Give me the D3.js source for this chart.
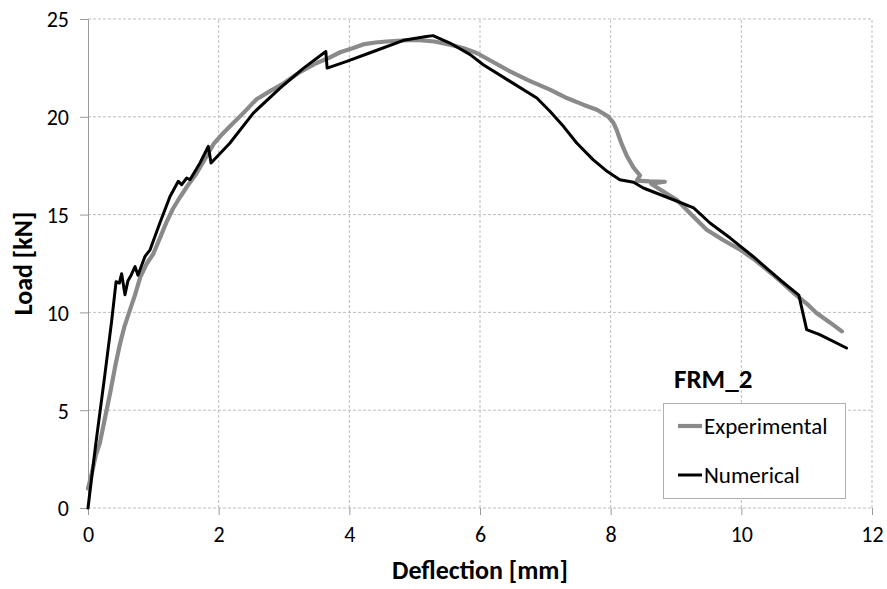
<!DOCTYPE html>
<html>
<head>
<meta charset="utf-8">
<script src="https://cdn.jsdelivr.net/npm/d3@7"></script>
<style>
  html, body { margin: 0; padding: 0; background: #fff; }
  svg { display: block; font-family: Calibri, Carlito, Lato, "Open Sans", sans-serif; }
</style>
</head>
<body>
<svg id="chart" width="887" height="589"></svg>
<script>
// Load–deflection response of specimen FRM_2
const chartTitle = "FRM_2";
const xTicks = [0, 2, 4, 6, 8, 10, 12];
const yTicks = [0, 5, 10, 15, 20, 25];

// Experimental curve: [deflection mm, load kN]
const experimental = [
  [0.00, 1.0], [0.06, 1.8], [0.12, 2.7], [0.18, 3.3], [0.26, 4.6], [0.34, 5.9],
  [0.42, 7.3], [0.49, 8.4], [0.56, 9.3], [0.64, 10.1], [0.72, 10.9], [0.80, 11.8],
  [0.90, 12.5], [1.00, 13.0], [1.10, 13.8], [1.20, 14.6], [1.30, 15.3], [1.41, 15.9],
  [1.53, 16.5], [1.66, 17.1], [1.80, 17.9], [1.92, 18.6], [2.05, 19.1], [2.17, 19.5],
  [2.38, 20.2], [2.58, 20.9], [2.78, 21.3], [2.99, 21.7], [3.25, 22.3], [3.50, 22.75],
  [3.68, 23.0], [3.86, 23.3], [4.05, 23.5], [4.21, 23.7], [4.40, 23.8], [4.57, 23.85],
  [4.80, 23.9], [5.03, 23.93], [5.30, 23.85], [5.54, 23.69], [5.75, 23.5], [5.95, 23.26],
  [6.20, 22.8], [6.46, 22.32], [6.75, 21.85], [7.07, 21.39], [7.30, 21.0], [7.58, 20.62],
  [7.79, 20.36], [7.96, 20.02], [8.04, 19.7], [8.09, 19.34], [8.17, 18.6], [8.25, 17.98],
  [8.35, 17.4], [8.45, 17.0], [8.40, 16.74], [8.60, 16.70], [8.83, 16.68], [8.62, 16.58],
  [8.75, 16.3], [9.01, 15.76], [9.25, 14.95], [9.47, 14.23], [9.72, 13.7], [9.98, 13.21],
  [10.20, 12.7], [10.39, 12.19], [10.60, 11.6], [10.80, 10.99], [11.00, 10.45],
  [11.15, 9.97], [11.35, 9.5], [11.54, 9.03]
];

// Numerical model: [deflection mm, load kN]
const numerical = [
  [0.00, 0.0], [0.12, 3.3], [0.25, 6.6], [0.36, 9.5], [0.43, 11.57], [0.48, 11.5],
  [0.515, 11.98], [0.566, 10.9], [0.61, 11.6], [0.66, 11.9], [0.72, 12.34], [0.765, 11.9],
  [0.87, 12.85], [0.95, 13.2], [1.10, 14.57], [1.255, 15.93], [1.382, 16.70], [1.434, 16.53],
  [1.511, 16.87], [1.561, 16.78], [1.714, 17.64], [1.841, 18.49], [1.883, 17.64],
  [2.17, 18.65], [2.53, 20.19], [2.94, 21.47], [3.30, 22.49], [3.64, 23.34], [3.66, 22.49],
  [3.96, 22.83], [4.37, 23.34], [4.83, 23.91], [5.18, 24.11], [5.28, 24.15], [5.54, 23.77],
  [5.85, 23.18], [6.05, 22.66], [6.46, 21.81], [6.87, 20.96], [7.07, 20.28], [7.28, 19.5],
  [7.48, 18.66], [7.73, 17.81], [7.95, 17.2], [8.14, 16.78], [8.35, 16.65], [8.50, 16.36],
  [8.96, 15.76], [9.27, 15.34], [9.52, 14.57], [9.83, 13.80], [10.18, 12.86], [10.59, 11.67],
  [10.88, 10.88], [11.00, 9.12], [11.20, 8.86], [11.61, 8.18]
];

const series = [
  { name: "Experimental", data: experimental, color: "#8a8a8a", width: 4.2 },
  { name: "Numerical", data: numerical, color: "#000000", width: 3 }
];

const svg = d3.select("#chart");
const margin = { left: 88, right: 15, top: 19, bottom: 81 };
const W = 887, H = 589;

const x = d3.scaleLinear().domain([0, 12]).range([margin.left, W - margin.right]);
const y = d3.scaleLinear().domain([0, 25]).range([H - margin.bottom, margin.top]);

// dashed grid
const grid = svg.append("g");
grid.selectAll("line.h").data(yTicks).join("line")
  .attr("x1", x(0)).attr("x2", x(12))
  .attr("y1", d => y(d)).attr("y2", d => y(d))
  .attr("stroke", "#bdbdbd").attr("stroke-width", 1).attr("stroke-dasharray", "3,2");
grid.selectAll("line.v").data(xTicks.filter(d => d > 0)).join("line")
  .attr("x1", d => x(d)).attr("x2", d => x(d))
  .attr("y1", y(0)).attr("y2", y(25))
  .attr("stroke", "#bdbdbd").attr("stroke-width", 1).attr("stroke-dasharray", "3,2");

// axes
const xAxis = svg.append("g")
  .attr("transform", `translate(0,${y(0)})`)
  .call(d3.axisBottom(x).tickValues(xTicks).tickSize(7).tickPadding(11).tickFormat(d3.format("d")));
xAxis.select(".domain").remove();
const yAxis = svg.append("g")
  .attr("transform", `translate(${x(0)},0)`)
  .call(d3.axisLeft(y).tickValues(yTicks).tickSize(8).tickPadding(11).tickFormat(d3.format("d")));
yAxis.select(".domain").attr("stroke", "#9a9a9a");
svg.selectAll(".tick line").attr("stroke", "#9a9a9a");
svg.selectAll(".tick text").attr("font-size", 22).attr("fill", "#000")
  .attr("font-family", 'Calibri, Carlito, Lato, "Open Sans", sans-serif');
yAxis.selectAll(".tick text").attr("dy", "0.36em");

// curves
const line = d3.line().x(d => x(d[0])).y(d => y(d[1]));
svg.append("g").selectAll("path").data(series).join("path")
  .attr("d", d => line(d.data))
  .attr("fill", "none")
  .attr("stroke", d => d.color)
  .attr("stroke-width", d => d.width)
  .attr("stroke-linejoin", "round")
  .attr("stroke-linecap", "round");

// axis titles
svg.append("text")
  .attr("x", (x(0) + x(12)) / 2).attr("y", 579)
  .attr("text-anchor", "middle").attr("font-size", 26).attr("font-weight", "bold")
  .text("Deflection [mm]");
svg.append("text")
  .attr("transform", `translate(32,${(y(0) + y(25)) / 2}) rotate(-90)`)
  .attr("text-anchor", "middle").attr("font-size", 26).attr("font-weight", "bold")
  .text("Load [kN]");

// title and legend
svg.append("text")
  .attr("x", 674).attr("y", 388)
  .attr("font-size", 27).attr("font-weight", "bold")
  .text(chartTitle);

const legend = svg.append("g");
legend.append("rect")
  .attr("x", 663.5).attr("y", 403.5).attr("width", 182).attr("height", 95)
  .attr("fill", "#fff").attr("stroke", "#b0b0b0").attr("stroke-width", 1);
const items = legend.selectAll("g.item").data(series).join("g")
  .attr("transform", (d, i) => `translate(678,${426 + i * 49})`);
items.append("line")
  .attr("x1", 0).attr("x2", 24).attr("y1", 0).attr("y2", 0)
  .attr("stroke", d => d.color).attr("stroke-width", d => d.width);
items.append("text")
  .attr("x", 26).attr("y", 0).attr("dy", "0.35em")
  .attr("font-size", 23)
  .text(d => d.name);
</script>
</body>
</html>
